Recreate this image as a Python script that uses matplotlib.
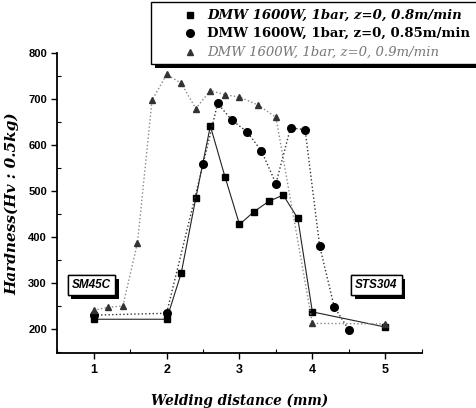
import numpy as np
import matplotlib
matplotlib.use('Agg')
import matplotlib.pyplot as plt
import matplotlib.patheffects as pe
from matplotlib.patches import Rectangle
from matplotlib.lines import Line2D
from matplotlib.ticker import MultipleLocator

# datos
x_08 = [1.0, 2.0, 2.2, 2.4, 2.6, 2.8, 3.0, 3.2, 3.4, 3.6, 3.8, 4.0, 5.0]
y_08 = [222, 222, 322, 485, 642, 532, 428, 456, 478, 492, 441, 238, 205]

x_085 = [1.0, 2.0, 2.5, 2.7, 2.9, 3.1, 3.3, 3.5, 3.7, 3.9, 4.1, 4.3, 4.5]
y_085 = [231, 235, 559, 691, 654, 630, 588, 517, 638, 634, 381, 249, 199]

x_09 = [1.0, 1.2, 1.4, 1.6, 1.8, 2.0, 2.2, 2.4, 2.6, 2.8, 3.0, 3.25, 3.5, 4.0, 5.0]
y_09 = [242, 248, 251, 388, 698, 754, 735, 680, 719, 710, 705, 688, 661, 213, 212]

etiquetas = ['DMW 1600W, 1bar, z=0, 0.8m/min',
             'DMW 1600W, 1bar, z=0, 0.85m/min',
             'DMW 1600W, 1bar, z=0, 0.9m/min']

W, H = 477, 408
fig = plt.figure(figsize=(W/100, H/100), dpi=100)
ax = fig.add_axes([57.3/W, 1-353.3/H, (421.7-57.3)/W, (353.3-53.3)/H])

estilo_sq = dict(color='#222222', lw=0.8, marker='s', ms=5, mfc='black', mec='black')
estilo_ci = dict(color='#333333', lw=1.0, marker='o', ms=5.5, mfc='black', mec='black')
estilo_tr = dict(color='#888888', lw=1.0, marker='^', ms=4.5, mfc='#333333', mec='#333333')

ax.plot(x_08, y_08, '-', **estilo_sq)
ax.plot(x_085, y_085, ':', **estilo_ci)
ax.plot(x_09, y_09, ':', **estilo_tr)

ax.set_xlim(0.5, 5.5)
ax.set_ylim(148, 800)
ax.xaxis.set_major_locator(MultipleLocator(1))
ax.xaxis.set_minor_locator(MultipleLocator(0.5))
ax.yaxis.set_minor_locator(MultipleLocator(50))
ax.set_yticks(range(200, 801, 100))

ax.spines['top'].set_visible(False)
ax.spines['right'].set_visible(False)
ax.spines['left'].set_linewidth(1.3)
ax.spines['bottom'].set_linewidth(1.3)
ax.tick_params(which='major', direction='out', length=4, width=1)
ax.tick_params(which='minor', direction='in', length=3, width=0.8)
for t in ax.get_xticklabels():
    t.set_fontfamily('Liberation Sans')
    t.set_fontweight('bold')
    t.set_fontsize(9)
for t in ax.get_yticklabels():
    t.set_fontfamily('Liberation Sans')
    t.set_fontweight('bold')
    t.set_fontsize(8)

ax.set_xlabel('Welding distance (mm)', family='DejaVu Serif', style='italic',
              weight='bold', fontsize=9.8, labelpad=13)
ax.set_ylabel('Hardness(Hv : 0.5kg)', family='DejaVu Serif', style='italic',
              weight='bold', fontsize=11, labelpad=6)

# cajas de los materiales
for xx, yy, txt in [(0.97, 296, 'SM45C'), (4.88, 296, 'STS304')]:
    t = ax.text(xx, yy, txt, ha='center', va='center', family='Liberation Sans',
                style='italic', weight='bold', fontsize=8.5,
                bbox=dict(boxstyle='square,pad=0.35', fc='white', ec='black', lw=1))
    t.get_bbox_patch().set_path_effects([
        pe.withSimplePatchShadow(offset=(2.5, -2.5), shadow_rgbFace='black', alpha=1),
        pe.Normal()])

# leyenda dibujada a mano, se sale por la derecha como en el original
sombra = Rectangle((155/W, 1-68/H), 340/W, 64/H, transform=fig.transFigure,
                   fc='black', ec='none')
caja = Rectangle((151/W, 1-64/H), 340/W, 62/H, transform=fig.transFigure,
                 fc='white', ec='black', lw=1)
fig.add_artist(sombra)
fig.add_artist(caja)

filas = [15, 33, 52]
estilos = [('italic', 'bold', 'black'), ('normal', 'bold', 'black'),
           ('italic', 'normal', '#777777')]
for fila, et, est, (st, wt, col) in zip(filas, etiquetas,
                                        [estilo_sq, estilo_ci, estilo_tr], estilos):
    yy = 1 - fila/H
    fig.add_artist(Line2D([190/W], [yy], transform=fig.transFigure,
                          linestyle='none', marker=est['marker'], ms=est['ms'],
                          mfc=est['mfc'], mec=est['mec']))
    fig.text(207/W, yy, et, ha='left', va='center', family='DejaVu Serif',
             style=st, weight=wt, color=col, fontsize=9.5)

fig.savefig('out.png', dpi=100)
